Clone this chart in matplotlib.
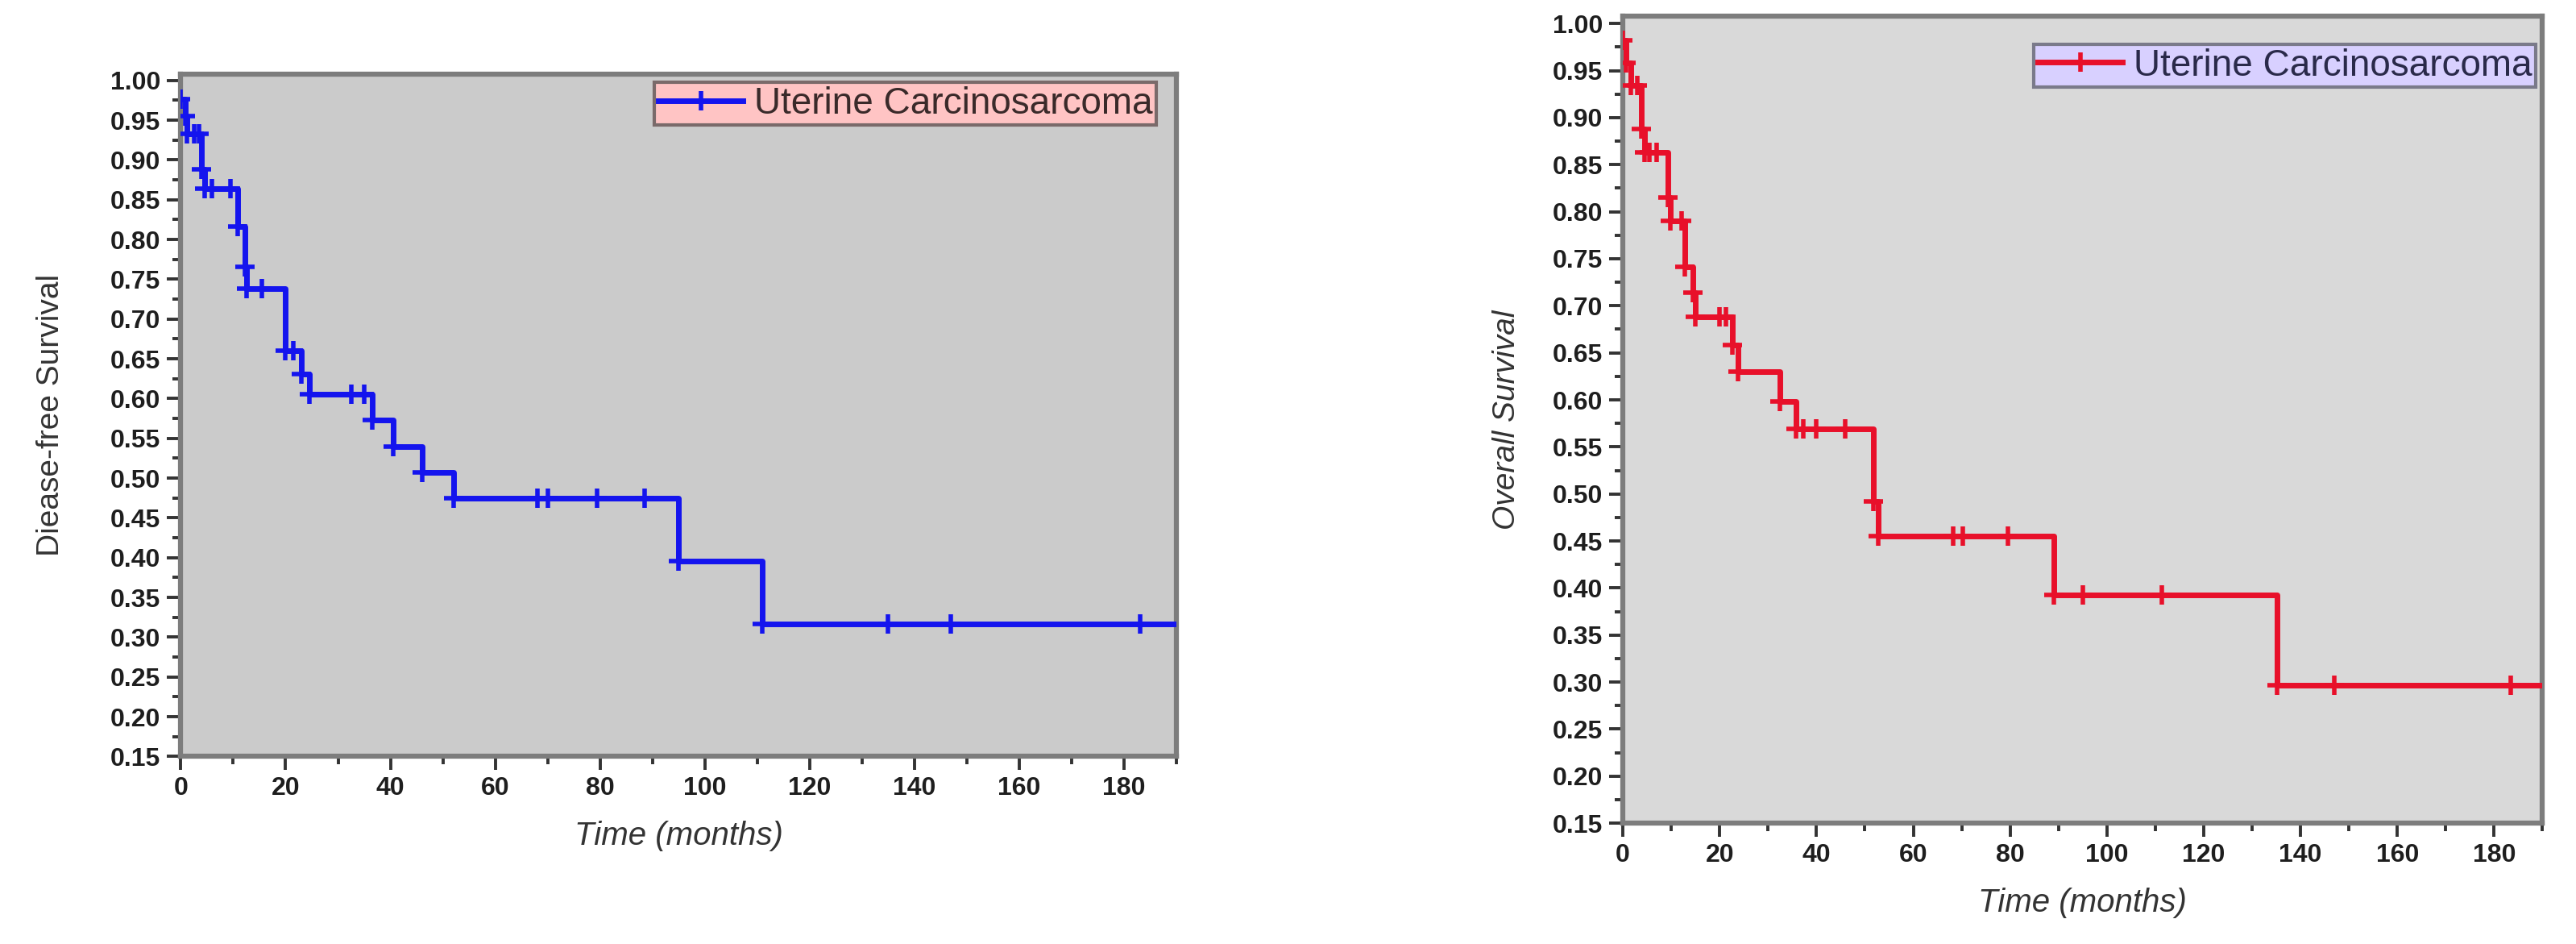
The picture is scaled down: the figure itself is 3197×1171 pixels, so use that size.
import matplotlib
matplotlib.use("Agg")
import matplotlib.pyplot as plt
from matplotlib.lines import Line2D
from matplotlib.ticker import MultipleLocator, FormatStrFormatter

plt.rcParams['font.family'] = ['Liberation Sans', 'DejaVu Sans']

# ---------------- data ----------------
series_label = "Uterine Carcinosarcoma"

dfs_time = [0, 0.8, 1.2, 2.5, 3.5, 4.0, 4.5, 6.0, 9.5, 10.8, 12.3, 12.6, 15.5,
            20.0, 21.5, 23.0, 24.5, 32.5, 35.0, 36.6, 40.5, 46.0, 52.0,
            68.0, 70.0, 79.5, 88.5, 95.0, 111.0, 135.0, 147.0, 183.0]
dfs_surv = [0.976, 0.955, 0.933, 0.933, 0.933, 0.888, 0.864, 0.864, 0.864, 0.816,
            0.766, 0.738, 0.738, 0.660, 0.660, 0.631, 0.605, 0.605, 0.605, 0.573,
            0.540, 0.507, 0.475, 0.475, 0.475, 0.475, 0.475, 0.396, 0.317,
            0.317, 0.317, 0.317]

os_time = [0, 0.6, 1.7, 3.0, 3.8, 4.4, 5.5, 7.0, 9.3, 9.8, 12.2, 12.8, 14.5,
           15.0, 20.0, 21.3, 22.6, 23.8, 32.5, 35.7, 37.2, 40.0, 46.0, 51.8,
           52.8, 68.2, 70.2, 79.5, 89.0, 95.0, 111.3, 135.2, 147.0, 183.5]
os_surv = [0.982, 0.958, 0.934, 0.934, 0.888, 0.863, 0.863, 0.863, 0.815, 0.790,
           0.790, 0.741, 0.714, 0.688, 0.688, 0.688, 0.658, 0.630, 0.598, 0.569,
           0.569, 0.569, 0.569, 0.492, 0.455, 0.455, 0.455, 0.455, 0.393, 0.393,
           0.393, 0.297, 0.297, 0.297]

x_max = 190
y_min, y_max = 0.15, 1.008
x_ticks = [0, 20, 40, 60, 80, 100, 120, 140, 160, 180]

fig = plt.figure(figsize=(31.97, 11.71), dpi=100)

def style_axes(ax, face, ylab, ylab_italic, ylab_pad):
    ax.set_facecolor(face)
    ax.set_xlim(0, x_max)
    ax.set_ylim(y_min, y_max)
    ax.set_xticks(x_ticks)
    ax.xaxis.set_minor_locator(MultipleLocator(10))
    ax.yaxis.set_major_locator(MultipleLocator(0.05))
    ax.yaxis.set_minor_locator(MultipleLocator(0.025))
    ax.yaxis.set_major_formatter(FormatStrFormatter('%.2f'))
    for sp in ax.spines.values():
        sp.set_color('#7d7d7d')
        sp.set_linewidth(4.5)
    ax.tick_params(which='major', direction='out', length=12, width=2.8,
                   color='#333333', labelsize=23, labelcolor='#1e1e1e', pad=6)
    ax.tick_params(which='minor', direction='out', length=7, width=2.8,
                   color='#333333')
    for lab in ax.get_xticklabels() + ax.get_yticklabels():
        lab.set_fontweight('bold')
    ax.set_xlabel("Time (months)", fontsize=29, style='italic', color='#333333',
                  labelpad=18)
    ax.set_ylabel(ylab, fontsize=28, style='italic' if ylab_italic else 'normal',
                  color='#333333', labelpad=ylab_pad)

def km(ax, t, s, color):
    tt = list(t) + [x_max]
    ss = list(s) + [s[-1]]
    ax.step(tt, ss, where='post', color=color, lw=5, zorder=3)
    ax.plot(t, s, ls='none', marker='+', ms=17, mew=4, color=color, zorder=4)

# ---------------- left: disease-free survival ----------------
ax1 = fig.add_axes([0.0702, 0.1986, 0.3865, 0.723])
style_axes(ax1, '#cbcbcb', "Diease-free Survival", False, 40)
km(ax1, dfs_time, dfs_surv, '#1414ee')
h1 = Line2D([], [], color='#1414ee', lw=5, marker='+', ms=17, mew=4)
leg1 = ax1.legend([h1], [series_label], loc='upper right', fontsize=33,
                  frameon=True, fancybox=False, facecolor='#ffc4c4',
                  edgecolor='#7a6a6a', framealpha=1, handlelength=2.3,
                  borderpad=0.1, handletextpad=0.3, borderaxespad=0,
                  bbox_to_anchor=(0.98, 0.988))
leg1.get_frame().set_linewidth(3)
for t in leg1.get_texts():
    t.set_color('#3a2a2a')

# ---------------- right: overall survival ----------------
ax2 = fig.add_axes([0.630, 0.128, 0.357, 0.855])
style_axes(ax2, '#d9d9d9', "Overall Survival", True, 28)
km(ax2, os_time, os_surv, '#e8102a')
h2 = Line2D([], [], color='#e8102a', lw=5, marker='+', ms=17, mew=4)
leg2 = ax2.legend([h2], [series_label], loc='upper right', fontsize=33,
                  frameon=True, fancybox=False, facecolor='#d8d0ff',
                  edgecolor='#7a7a8a', framealpha=1, handlelength=2.3,
                  borderpad=0.1, handletextpad=0.3, borderaxespad=0,
                  bbox_to_anchor=(0.993, 0.965))
leg2.get_frame().set_linewidth(3)
for t in leg2.get_texts():
    t.set_color('#2a2a4a')

fig.savefig("out.png", dpi=100, facecolor='white')
